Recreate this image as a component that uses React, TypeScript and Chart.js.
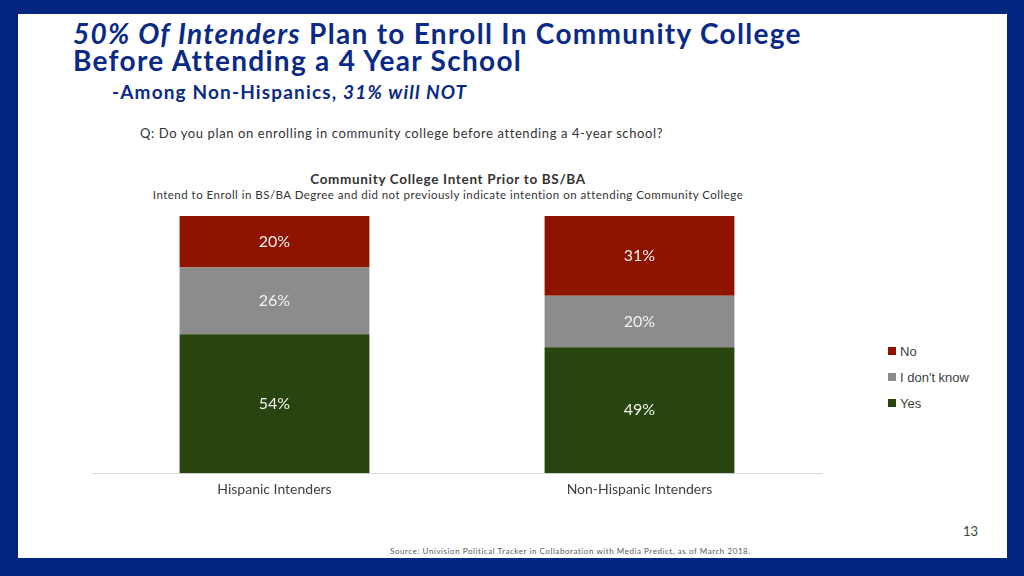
import React, { useEffect, useRef } from "react";
import { Chart, registerables } from "chart.js";

Chart.register(...registerables);

const categories = ["Hispanic Intenders", "Non-Hispanic Intenders"];
const yesValues = [54, 49];
const dontKnowValues = [26, 20];
const noValues = [20, 31];
const seriesNames = ["Yes", "I don't know", "No"];
const seriesColors = ["#284510", "#8c8c8c", "#8f1400"];

const FONT = "'Lato', 'Open Sans', sans-serif";

const labelPlugin = {
  id: "segLabels",
  afterDatasetsDraw(chart: any) {
    const ctx = chart.ctx;
    ctx.save();
    ctx.fillStyle = "#f2f2f2";
    ctx.font = `16px ${FONT}`;
    ctx.textAlign = "center";
    ctx.textBaseline = "middle";
    chart.data.datasets.forEach((ds: any, di: number) => {
      const meta = chart.getDatasetMeta(di);
      meta.data.forEach((bar: any, i: number) => {
        const { x, y, base } = bar.getProps(["x", "y", "base"], true);
        ctx.fillText(`${ds.data[i]}%`, x, (y + base) / 2);
      });
    });
    ctx.restore();
  },
};

export default function App() {
  const ref = useRef<HTMLCanvasElement>(null);
  useEffect(() => {
    if (!ref.current) return;
    const chart = new Chart(ref.current, {
      type: "bar",
      data: {
        labels: categories,
        datasets: [
          { label: seriesNames[0], data: yesValues, backgroundColor: seriesColors[0] },
          { label: seriesNames[1], data: dontKnowValues, backgroundColor: seriesColors[1] },
          { label: seriesNames[2], data: noValues, backgroundColor: seriesColors[2] },
        ],
      },
      options: {
        animation: false,
        responsive: false,
        maintainAspectRatio: false,
        layout: { padding: { top: 10, left: 0, right: 0, bottom: 0 } },
        plugins: { legend: { display: false }, tooltip: { enabled: false } },
        datasets: { bar: { categoryPercentage: 1, barPercentage: 0.52 } } as any,
        scales: {
          x: {
            stacked: true,
            grid: { display: false, drawTicks: false },
            border: { display: true, color: "#d9d9d9", width: 1 },
            ticks: { color: "#404040", font: { family: FONT, size: 14 }, padding: 8 },
          },
          y: { stacked: true, display: false, min: 0, max: 100 },
        },
      },
      plugins: [labelPlugin],
    });
    return () => chart.destroy();
  }, []);

  const legendItems = [
    { name: seriesNames[2], color: seriesColors[2], top: 343 },
    { name: seriesNames[1], color: seriesColors[1], top: 369 },
    { name: seriesNames[0], color: seriesColors[0], top: 395 },
  ];

  return (
    <div style={{ position: "fixed", left: 0, top: 0, width: 1024, height: 576, background: "#02257f", overflow: "hidden" }}>
      <div style={{ position: "absolute", left: 18, top: 14, width: 989, height: 544, background: "#ffffff" }} />
      <div style={{ position: "absolute", left: 73, top: 20, fontFamily: "'Lato', sans-serif", fontWeight: 700, fontSize: 28, lineHeight: "27px", letterSpacing: 1.3, color: "#0b2a86", whiteSpace: "nowrap" }}>
        <div><i>50% Of Intenders</i> Plan to Enroll In Community College</div>
        <div>Before Attending a 4 Year School</div>
      </div>
      <div style={{ position: "absolute", left: 112, top: 80, fontFamily: "'Lato', sans-serif", fontWeight: 700, fontSize: 19, letterSpacing: 1.15, color: "#0b2a86", whiteSpace: "nowrap" }}>
        -Among Non-Hispanics, <i>31% will NOT</i>
      </div>
      <div style={{ position: "absolute", left: 140, top: 125, fontFamily: FONT, fontSize: 13, letterSpacing: 0.6, color: "#333", whiteSpace: "nowrap" }}>
        Q: Do you plan on enrolling in community college before attending a 4-year school?
      </div>
      <div style={{ position: "absolute", left: 148, width: 600, top: 171, textAlign: "center", fontFamily: FONT, color: "#333", whiteSpace: "nowrap" }}>
        <div style={{ fontWeight: 700, fontSize: 13.5, letterSpacing: 0.67, lineHeight: "16px" }}>Community College Intent Prior to BS/BA</div>
        <div style={{ fontSize: 11.5, letterSpacing: 0.48, lineHeight: "16px" }}>Intend to Enroll in BS/BA Degree and did not previously indicate intention on attending Community College</div>
      </div>
      <canvas ref={ref} width={730} height={300} style={{ position: "absolute", left: 92, top: 206, width: 730, height: 300 }} />
      {legendItems.map((it) => (
        <div key={it.name} style={{ position: "absolute", left: 888, top: it.top, fontFamily: "'Liberation Sans', 'Open Sans', sans-serif", fontSize: 13, color: "#404040", whiteSpace: "nowrap", display: "flex", alignItems: "center", height: 16 }}>
          <span style={{ display: "inline-block", width: 8, height: 8, background: it.color, marginRight: 4 }} />
          {it.name}
        </div>
      ))}
      <div style={{ position: "absolute", left: 963, top: 523, fontFamily: FONT, fontSize: 13, color: "#404040" }}>13</div>
      <div style={{ position: "absolute", left: 390, top: 546, fontFamily: FONT, fontSize: 8, letterSpacing: 0.56, color: "#595959", whiteSpace: "nowrap" }}>
        Source: Univision Political Tracker in Collaboration with Media Predict, as of March 2018.
      </div>
    </div>
  );
}
